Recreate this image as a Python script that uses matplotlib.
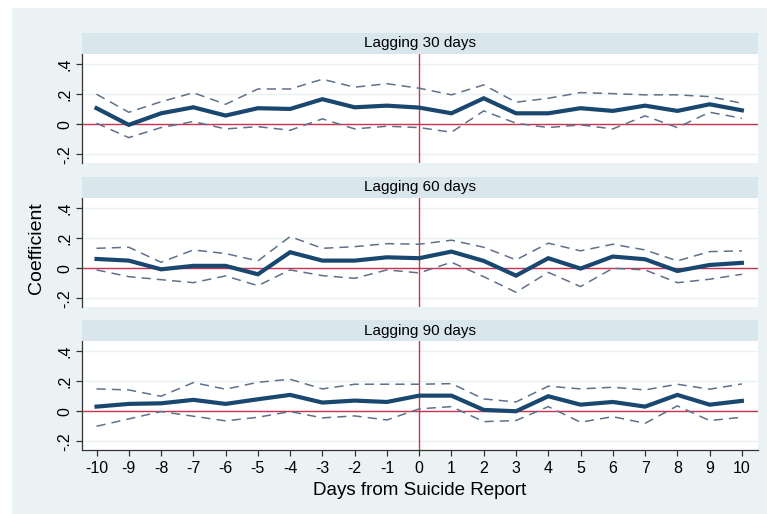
import matplotlib
matplotlib.use("Agg")
import matplotlib.pyplot as plt
import numpy as np

plt.rcParams['font.family'] = ['Liberation Sans', 'DejaVu Sans']

days = list(range(-10, 11))
panel_titles = ["Lagging 30 days", "Lagging 60 days", "Lagging 90 days"]

coef_30 = [0.107, -0.004, 0.073, 0.113, 0.058, 0.107, 0.102, 0.167, 0.113, 0.124, 0.111,
           0.073, 0.173, 0.073, 0.073, 0.107, 0.089, 0.124, 0.089, 0.133, 0.093]
upper_30 = [0.200, 0.080, 0.150, 0.210, 0.133, 0.235, 0.235, 0.300, 0.247, 0.270, 0.240,
            0.196, 0.262, 0.147, 0.173, 0.211, 0.204, 0.196, 0.196, 0.184, 0.140]
lower_30 = [0.007, -0.089, -0.022, 0.018, -0.031, -0.016, -0.040, 0.036, -0.031, -0.013, -0.022,
            -0.053, 0.089, 0.007, -0.022, -0.004, -0.031, 0.056, -0.022, 0.080, 0.040]

coef_60 = [0.062, 0.051, -0.007, 0.016, 0.016, -0.040, 0.107, 0.051, 0.051, 0.073, 0.067,
           0.111, 0.049, -0.049, 0.067, -0.002, 0.078, 0.060, -0.018, 0.022, 0.036]
upper_60 = [0.133, 0.140, 0.040, 0.122, 0.098, 0.049, 0.211, 0.133, 0.144, 0.164, 0.160,
            0.187, 0.140, 0.056, 0.167, 0.116, 0.160, 0.122, 0.049, 0.111, 0.116]
lower_60 = [-0.011, -0.056, -0.076, -0.096, -0.051, -0.116, -0.011, -0.049, -0.067, -0.011, -0.031,
            0.040, -0.056, -0.160, -0.027, -0.122, 0.000, -0.011, -0.096, -0.073, -0.040]

coef_90 = [0.031, 0.049, 0.053, 0.076, 0.049, 0.080, 0.109, 0.058, 0.071, 0.062, 0.104,
           0.104, 0.009, 0.000, 0.100, 0.044, 0.062, 0.031, 0.109, 0.044, 0.069]
upper_90 = [0.149, 0.142, 0.100, 0.191, 0.147, 0.193, 0.213, 0.149, 0.180, 0.180, 0.180,
            0.184, 0.082, 0.062, 0.167, 0.149, 0.160, 0.142, 0.180, 0.147, 0.182]
lower_90 = [-0.100, -0.051, -0.002, -0.033, -0.064, -0.040, -0.002, -0.044, -0.031, -0.058, 0.016,
            0.031, -0.069, -0.062, 0.031, -0.073, -0.036, -0.080, 0.036, -0.062, -0.040]

ytick_vals = [-0.2, 0, 0.2, 0.4]
ytick_labels = ["-.2", "0", ".2", ".4"]

panels = [(coef_30, upper_30, lower_30), (coef_60, upper_60, lower_60), (coef_90, upper_90, lower_90)]

BG = '#EAF2F3'
STRIP = '#D9E6EB'
NAVY = '#1A476F'
DASH = '#5E7189'
RED = '#CC3350'

W, H = 767, 514
fig = plt.figure(figsize=(W / 100, H / 100), dpi=100)
fig.patch.set_facecolor('white')

# background panel as a bare axes drawn first
bg = fig.add_axes([12 / W, 0, 1 - 12 / W, 1 - 8 / H], zorder=-10)
bg.set_facecolor(BG)
bg.set_xticks([]); bg.set_yticks([])
for s in bg.spines.values():
    s.set_visible(False)

left_px, right_px = 82, 758
plot_tops = [54, 198, 341]
plot_h = 109
strip_h = 21

for i, (coef, up, lo) in enumerate(panels):
    top = plot_tops[i]
    ax = fig.add_axes([left_px / W, 1 - (top + plot_h) / H, (right_px - left_px) / W, plot_h / H])
    ax.set_facecolor('white')
    ax.set_xlim(-10.45, 10.5)
    ax.set_ylim(-0.258, 0.468)
    for yv in ytick_vals:
        ax.axhline(yv, color=BG, lw=1.0, zorder=1)
    ax.axhline(0, color=RED, lw=1.0, zorder=2)
    ax.axvline(0, color=RED, lw=1.0, zorder=2)
    ax.plot(days, up, color=DASH, lw=1.1, dashes=(6, 4), zorder=3)
    ax.plot(days, lo, color=DASH, lw=1.1, dashes=(6, 4), zorder=3)
    ax.plot(days, coef, color=NAVY, lw=3.0, zorder=4, solid_joinstyle='miter')
    ax.set_yticks(ytick_vals)
    ax.set_yticklabels(ytick_labels, rotation=90, va='center', fontsize=11.5)
    for s in ['top', 'right']:
        ax.spines[s].set_visible(False)
    ax.spines['left'].set_color('#333333')
    ax.spines['left'].set_linewidth(0.9)
    ax.tick_params(axis='y', length=4, width=0.9, color='#333333', pad=3)
    if i < 2:
        ax.spines['bottom'].set_visible(False)
        ax.set_xticks([])
    else:
        ax.spines['bottom'].set_color('#333333')
        ax.spines['bottom'].set_linewidth(0.9)
        ax.set_xticks(days)
        ax.set_xticklabels([str(d) for d in days], fontsize=11.5)
        ax.tick_params(axis='x', length=4, width=0.9, color='#333333', pad=4)
        ax.set_xlabel("Days from Suicide Report", fontsize=13.5, labelpad=4)
    # strip
    sax = fig.add_axes([left_px / W, 1 - top / H, (right_px - left_px) / W, strip_h / H])
    sax.set_facecolor(STRIP)
    sax.set_xticks([]); sax.set_yticks([])
    for s in sax.spines.values():
        s.set_visible(False)
    sax.text(0.5, 0.5, panel_titles[i], ha='center', va='center', fontsize=11,
             transform=sax.transAxes)

fig.text(36 / W, 1 - 248 / H, "Coefficient", rotation=90, ha='center', va='center', fontsize=14)

fig.savefig("out.png", dpi=100, facecolor=fig.get_facecolor())
